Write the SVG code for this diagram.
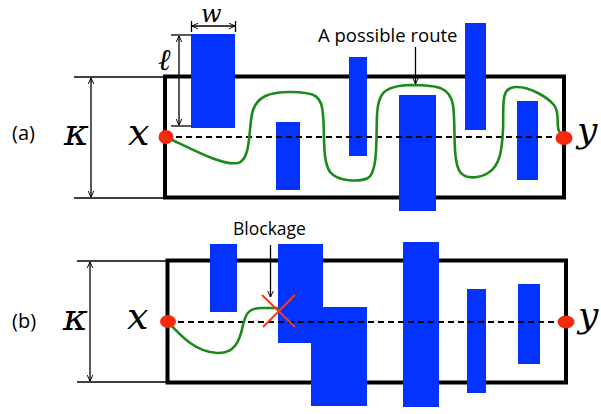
<svg xmlns="http://www.w3.org/2000/svg" width="601" height="414" viewBox="0 0 601 414">
<style>
.box{fill:none;stroke:#000;stroke-width:4}
.dim{fill:none;stroke:#000;stroke-width:1.3}
.blk{fill:#0433FF}
.dash{fill:none;stroke:#000;stroke-width:1.8;stroke-dasharray:6 4}
.route{fill:none;stroke:#1A8A1A;stroke-width:2.6;stroke-linecap:round}
.dot{fill:#F52A0C}
.math{font-family:'DejaVu Serif',serif;font-style:italic;fill:#000}
.lbl{font-family:'Open Sans','Liberation Sans',sans-serif;fill:#000}
.cross{stroke:#F53A22;stroke-width:2;fill:none}
</style>
<defs>
<marker id="ah" viewBox="0 0 10 10" refX="9.5" refY="5" markerWidth="7" markerHeight="7" markerUnits="userSpaceOnUse" orient="auto-start-reverse">
<path d="M1,1 L9.5,5 L1,9" fill="none" stroke="#000" stroke-width="1.4"/>
</marker>
</defs>

<g id="panel-a">
<g id="box-a"><rect class="box" x="165" y="76.5" width="399" height="121"/></g>
<g id="blocks-a">
<rect class="blk" x="191" y="34" width="44" height="94"/>
<rect class="blk" x="276" y="122" width="24" height="68"/>
<rect class="blk" x="349" y="57" width="18" height="99"/>
<rect class="blk" x="399" y="95" width="37" height="116"/>
<rect class="blk" x="465" y="23" width="21" height="107"/>
<rect class="blk" x="517" y="101" width="21" height="79"/>
</g>
<g id="dims-a">
<line class="dim" x1="74" y1="77" x2="165" y2="77"/>
<line class="dim" x1="74" y1="198" x2="165" y2="198"/>
<line class="dim" x1="91" y1="78" x2="91" y2="197" marker-start="url(#ah)" marker-end="url(#ah)"/>
<line class="dim" x1="191.5" y1="21" x2="191.5" y2="32"/>
<line class="dim" x1="235.5" y1="21" x2="235.5" y2="32"/>
<line class="dim" x1="192" y1="26" x2="235" y2="26" marker-start="url(#ah)" marker-end="url(#ah)"/>
<line class="dim" x1="171" y1="35" x2="191" y2="35"/>
<line class="dim" x1="171" y1="126" x2="191" y2="126"/>
<line class="dim" x1="179" y1="36" x2="179" y2="125" marker-start="url(#ah)" marker-end="url(#ah)"/>
</g>
<line class="dash" x1="166" y1="137" x2="564" y2="137"/>
<path class="route" d="M166,137 C190,148 222,166 238,163 C252,160 248,125 253,110 C258,96 270,92 290,92 C316,92 322,96 323,115 C325,135 322,160 330,172 C338,182 360,182 368,178 C378,172 376,140 377,115 C378,95 382,86 410,85 C440,85 450,88 453,105 C456,125 452,160 460,172 C466,180 480,178 488,173 C500,166 502,150 503,130 C504,105 500,88 515,87 C530,86 548,98 554,105 C560,112 556,125 559,131 C561,135 563,137 565,138"/>
<g id="node-xa"><ellipse class="dot" cx="166" cy="137" rx="7.5" ry="7"/><text class="math" x="128" y="145" font-size="38">x</text></g>
<g id="node-ya"><ellipse class="dot" cx="564" cy="138" rx="8.5" ry="7"/><text class="math" x="577" y="142" font-size="36">y</text></g>
<text class="lbl" x="12" y="140" font-size="20">(a)</text>
<text class="math" x="64" y="145" font-size="38">κ</text>
<text class="math" x="201" y="22" font-size="24">w</text>
<text class="math" x="158" y="70" font-size="30">ℓ</text>
<text class="lbl" x="318" y="42" font-size="18.5">A possible route</text>
<line class="dim" x1="415.5" y1="47" x2="415.5" y2="84" marker-end="url(#ah)"/>
</g>

<g id="panel-b">
<g id="box-b"><rect class="box" x="167.5" y="260.5" width="398.5" height="122"/></g>
<g id="blocks-b">
<rect class="blk" x="210" y="244" width="27" height="68"/>
<rect class="blk" x="278" y="244" width="45" height="99"/>
<rect class="blk" x="311" y="307" width="56" height="99"/>
<rect class="blk" x="403" y="242" width="36" height="165"/>
<rect class="blk" x="467" y="289" width="19" height="104"/>
<rect class="blk" x="518" y="284" width="22" height="80"/>
</g>
<g id="dims-b">
<line class="dim" x1="77" y1="261" x2="167" y2="261"/>
<line class="dim" x1="77" y1="382" x2="167" y2="382"/>
<line class="dim" x1="90" y1="262" x2="90" y2="381" marker-start="url(#ah)" marker-end="url(#ah)"/>
</g>
<line class="dash" x1="168" y1="322" x2="566" y2="322"/>
<path class="route" d="M168,322 C180,335 195,352 217,353 C235,354 240,340 243,325 C246,312 250,308 262,308 L278,308"/>
<g id="blockage-x">
<line class="cross" x1="262" y1="295" x2="295" y2="327"/>
<line class="cross" x1="295" y1="295" x2="263" y2="327"/>
</g>
<g id="node-xb"><ellipse class="dot" cx="168" cy="321.5" rx="8" ry="6.5"/><text class="math" x="127" y="329" font-size="38">x</text></g>
<g id="node-yb"><ellipse class="dot" cx="566" cy="322" rx="8.5" ry="6.5"/><text class="math" x="578" y="327" font-size="36">y</text></g>
<text class="lbl" x="12" y="328" font-size="20">(b)</text>
<text class="math" x="63" y="330" font-size="38">κ</text>
<text class="lbl" x="233" y="235" font-size="17.5">Blockage</text>
<line class="dim" x1="270.5" y1="245" x2="270.5" y2="297" marker-end="url(#ah)"/>
</g>
</svg>
